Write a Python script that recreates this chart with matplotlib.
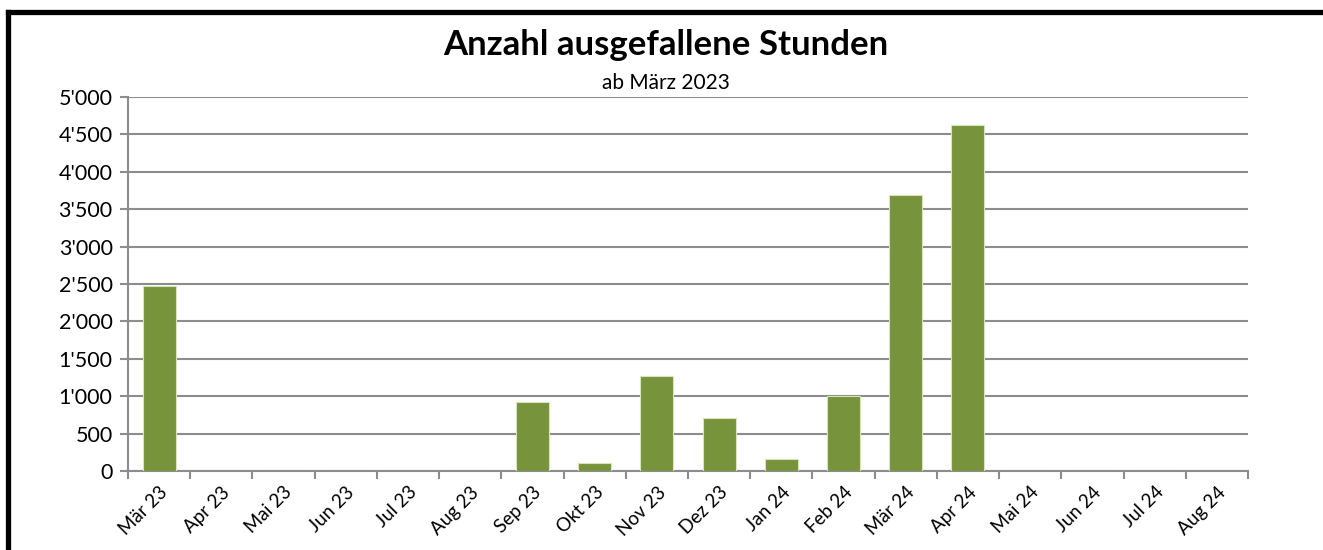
import matplotlib.pyplot as plt
from matplotlib.lines import Line2D
from matplotlib.ticker import FuncFormatter, FixedLocator
import numpy as np

plt.rcParams['font.family'] = ['Lato', 'DejaVu Sans']

months = ["Mär 23", "Apr 23", "Mai 23", "Jun 23", "Jul 23", "Aug 23",
          "Sep 23", "Okt 23", "Nov 23", "Dez 23", "Jan 24", "Feb 24",
          "Mär 24", "Apr 24", "Mai 24", "Jun 24", "Jul 24", "Aug 24"]
hours = [2480, 0, 0, 0, 0, 0,
         925, 110, 1270, 710, 160, 1000,
         3695, 4630, 0, 0, 0, 0]
y_ticks = [0, 500, 1000, 1500, 2000, 2500, 3000, 3500, 4000, 4500, 5000]

bar_color = "#77933C"
grid_color = "#8C8C8C"

fig = plt.figure(figsize=(13.23, 5.5), dpi=100)
ax = fig.add_axes([0.0967, 0.1436, 0.8466, 0.68])

x = np.arange(len(months))
ax.bar(x, hours, width=0.53, color=bar_color, edgecolor="#D8E4BC",
       linewidth=0.8, zorder=3)

ax.set_xlim(-0.5, len(months) - 0.5)
ax.set_ylim(0, 5000)
ax.set_yticks(y_ticks)
ax.yaxis.set_major_formatter(FuncFormatter(lambda v, p: f"{int(v):,}".replace(",", "'")))
ax.yaxis.grid(True, color=grid_color, linewidth=1.5, zorder=0)

ax.set_xticks(x)
ax.set_xticklabels(months, rotation=45, ha="right", rotation_mode="anchor")
ax.xaxis.set_minor_locator(FixedLocator(np.arange(len(months) + 1) - 0.5))
ax.tick_params(axis="x", which="major", length=0, pad=9, labelsize=13.5)
ax.tick_params(axis="x", which="minor", length=6, width=1.5, color=grid_color)
ax.tick_params(axis="y", length=6, width=1.5, color=grid_color, labelsize=15.5, pad=5)

for side in ["top", "right"]:
    ax.spines[side].set_visible(False)
for side in ["left", "bottom"]:
    ax.spines[side].set_color(grid_color)
    ax.spines[side].set_linewidth(1.5)

fig.text(0.503, 0.9, "Anzahl ausgefallene Stunden", ha="center",
         fontsize=25, fontweight="bold")
fig.text(0.503, 0.838, "ab März 2023", ha="center", fontsize=15)

# outer frame: top and left edge
fig.add_artist(Line2D([0.0057, 1.0], [0.9790, 0.9790], color="black",
                      linewidth=3.8, transform=fig.transFigure))
fig.add_artist(Line2D([0.0057, 0.0057], [0.9790, 0.0], color="black",
                      linewidth=3.8, transform=fig.transFigure))

fig.savefig("out.png", dpi=100)
